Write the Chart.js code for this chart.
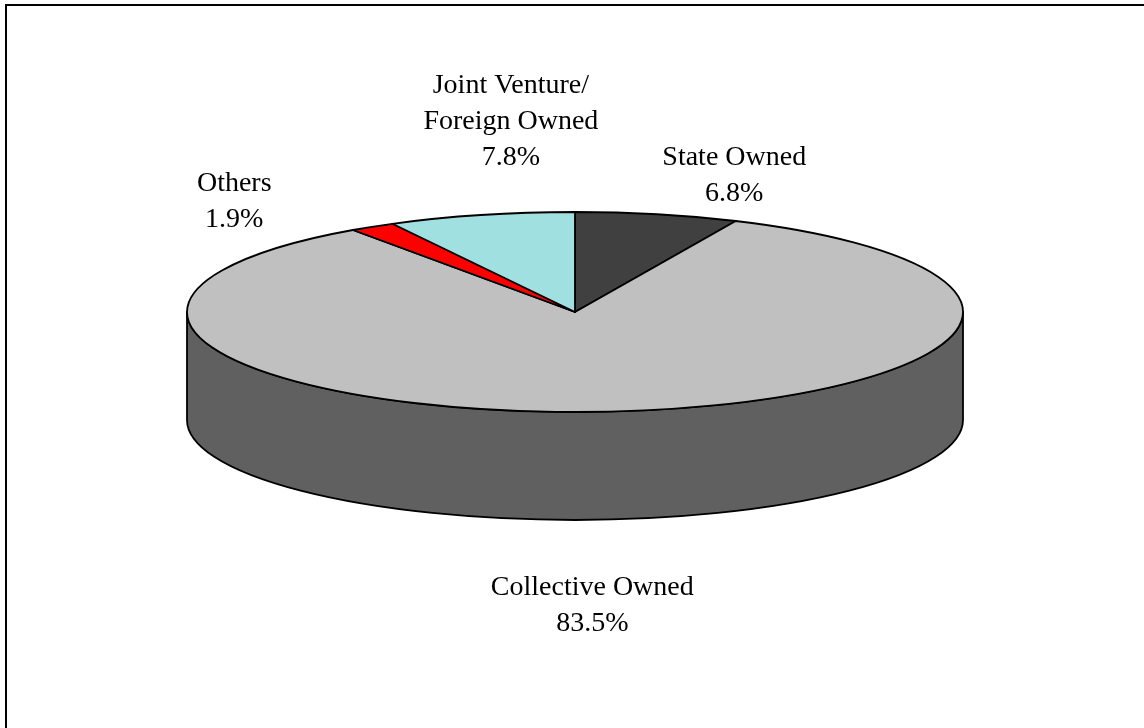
<!DOCTYPE html>
<html>
<head>
<meta charset="utf-8">
<script src="https://cdn.jsdelivr.net/npm/chart.js@4/dist/chart.umd.min.js"></script>
<style>
  html, body { margin: 0; padding: 0; background: #fff; }
  canvas { display: block; }
</style>
</head>
<body>
<canvas id="ownership" width="1144" height="728"></canvas>
<script>
// ownership shares, percent
const labels = ['State Owned', 'Collective Owned', 'Others', 'Joint Venture/\nForeign Owned'];
const values = [6.8, 83.5, 1.9, 7.8];
const colors = ['#404040', '#c0c0c0', '#ff0000', '#a0e0e0'];

// styling for the fake 3d look
const DEPTH = 108;
const labelNudge = [[77, -39], [-18, 86], [-138, -25], [30, -93]];
const FONT = '28px "Liberation Serif", "Times New Roman", serif';
const LINE_H = 36;

function shade(hex) {
    let n = parseInt(hex.slice(1), 16);
    let r = ((n >> 16) & 255) >> 1, g = ((n >> 8) & 255) >> 1, b = (n & 255) >> 1;
    return 'rgb(' + r + ',' + g + ',' + b + ')';
}

const frame = {
    id: 'frame',
    beforeDraw(chart) {
        let ctx = chart.ctx;
        ctx.save();
        ctx.fillStyle = '#fff';
        ctx.fillRect(0, 0, chart.width, chart.height);
        ctx.lineWidth = 2;
        ctx.strokeStyle = '#000';
        ctx.strokeRect(6, 5, chart.width + 50, chart.height + 50);
        ctx.restore();
    }
};

const pie3d = {
    id: 'pie3d',
    beforeDatasetsDraw(chart) {
        let ctx = chart.ctx;
        let a = chart.chartArea;
        let cx = (a.left + a.right) / 2, cy = (a.top + a.bottom) / 2;
        let rx = a.width / 2, ry = a.height / 2;
        let arcs = chart.getDatasetMeta(0).data;

        ctx.save();
        ctx.lineWidth = 1.8;
        ctx.strokeStyle = '#000';
        ctx.lineJoin = 'round';

        // front wall
        arcs.forEach((arc, i) => {
            let s = Math.max(arc.startAngle, 0);
            let e = Math.min(arc.endAngle, Math.PI);
            if (e <= s) return;
            ctx.beginPath();
            ctx.ellipse(cx, cy, rx, ry, 0, s, e);
            ctx.ellipse(cx, cy + DEPTH, rx, ry, 0, e, s, true);
            ctx.closePath();
            ctx.fillStyle = shade(colors[i]);
            ctx.fill();
            ctx.stroke();
        });

        // top face
        arcs.forEach((arc, i) => {
            ctx.beginPath();
            ctx.moveTo(cx, cy);
            ctx.ellipse(cx, cy, rx, ry, 0, arc.startAngle, arc.endAngle);
            ctx.closePath();
            ctx.fillStyle = colors[i];
            ctx.fill();
            ctx.stroke();
        });

        // labels
        ctx.font = FONT;
        ctx.fillStyle = '#000';
        ctx.textAlign = 'center';
        ctx.textBaseline = 'middle';
        arcs.forEach((arc, i) => {
            let mid = (arc.startAngle + arc.endAngle) / 2;
            let x = cx + rx * Math.cos(mid);
            let y = cy + ry * Math.sin(mid) + (Math.sin(mid) > 0 ? DEPTH : 0);
            x += labelNudge[i][0];
            y += labelNudge[i][1];
            let lines = labels[i].split('\n');
            lines.push(values[i].toFixed(1) + '%');
            let top = y - (lines.length - 1) * LINE_H / 2;
            lines.forEach((t, j) => ctx.fillText(t, x, top + j * LINE_H));
        });

        ctx.restore();
        return false;
    }
};

new Chart(document.getElementById('ownership'), {
    type: 'pie',
    data: {
        labels: labels,
        datasets: [{
            data: values,
            backgroundColor: colors,
            borderWidth: 0
        }]
    },
    options: {
        responsive: false,
        animation: false,
        layout: { padding: { left: 187, right: 181, top: 212, bottom: 316 } },
        plugins: {
            legend: { display: false },
            tooltip: { enabled: false }
        }
    },
    plugins: [frame, pie3d]
});
</script>
</body>
</html>
